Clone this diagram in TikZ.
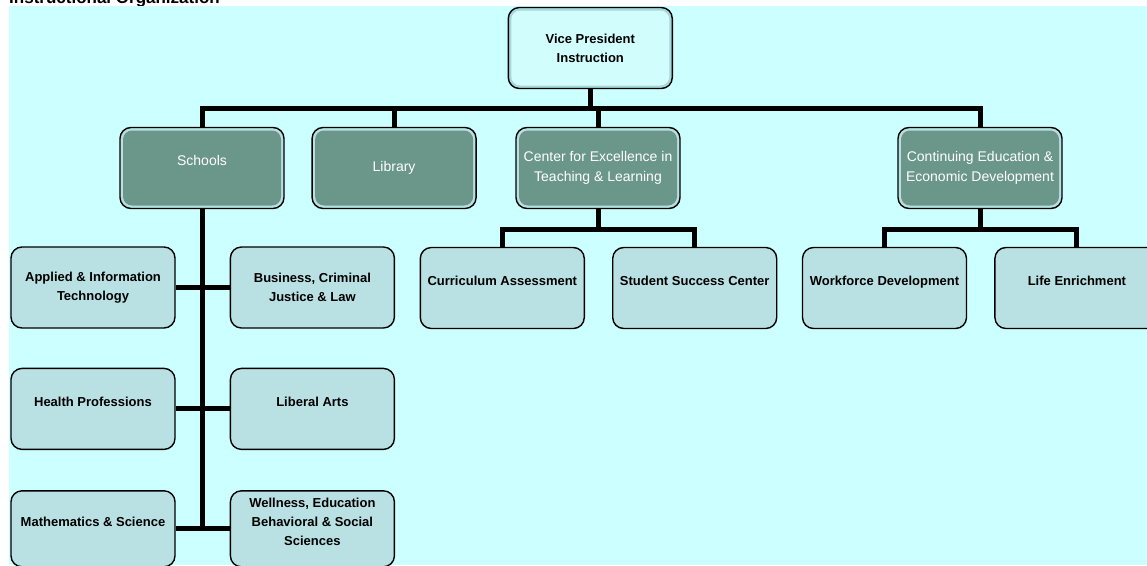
\documentclass[tikz,border=0pt]{standalone}
\usepackage{fontspec}
\setmainfont{Liberation Sans}
\usepackage{tikz}
\usetikzlibrary{positioning}
\definecolor{bgCyan}{HTML}{CCFFFF}
\definecolor{vpFill}{HTML}{D2FDFD}
\definecolor{vpRing}{HTML}{A8D6DA}
\definecolor{unitFill}{HTML}{6B978B}
\definecolor{unitRing}{HTML}{B8E0E2}
\definecolor{subFill}{HTML}{B9E0E3}
\newcommand{\upline}[1]{#1\\[-4pt]\mbox{}}

\begin{document}
\begin{tikzpicture}[x=1pt, y=-1pt, ringbox/.style 2 args={draw=black, line width=1.4pt, rounded corners=11pt, fill=#1, minimum width=164pt, minimum height=81pt, inner sep=0pt, align=center, path picture={\fill[#2, rounded corners=9pt] ([shift={(3pt,-3pt)}]path picture bounding box.north west) rectangle ([shift={(-3pt,3pt)}]path picture bounding box.south east);}},vpbox/.style={ringbox={vpRing}{vpFill}, font=\fontsize{13}{19}\selectfont\bfseries},unitbox/.style={ringbox={unitRing}{unitFill}, text=white, font=\fontsize{14}{19.5}\selectfont},subbox/.style={draw=black, line width=1.4pt, rounded corners=11pt, fill=subFill, minimum width=164pt, minimum height=81pt, inner sep=0pt, align=center, font=\fontsize{13}{19}\selectfont\bfseries},conn/.style={line width=5pt, draw=black}]
\useasboundingbox (0,0) rectangle (1147,565);
\node[anchor=base west, inner sep=0pt, font=\fontsize{17}{20}\selectfont\bfseries] (title) at (9,3.5) {Instructional Organization};
\fill[bgCyan] (9,5.5) rectangle (1147,565);
% top and second level
\node[vpbox] (vp) at (590.3,48) {Vice President\\Instruction};
\node[unitbox] (schools) at (202,168) {\upline{Schools}};
\node[unitbox, right=26.7pt of schools] (library) {Library};
\node[unitbox] (cetl) at (598,168) {Center for Excellence in\\Teaching \& Learning};
\node[unitbox] (ceed) at (980,168) {Continuing Education \&\\Economic Development};
% schools column
\node[subbox] (applied) at (93,287.5) {Applied \& Information\\Technology};
\node[subbox, right=54pt of applied] (business) {Business, Criminal\\Justice \& Law};
\node[subbox, below=39pt of applied] (health) {\upline{Health Professions}};
\node[subbox, right=54pt of health] (liberal) {\upline{Liberal Arts}};
\node[subbox, minimum height=76pt, below=40pt of health] (math) {\upline{Mathematics \& Science}};
\node[subbox, minimum height=76pt, right=54pt of math] (wellness) {\upline{Wellness, Education\\Behavioral \& Social\\Sciences}};
% third level
\node[subbox] (curr) at (502.3,288) {\upline{Curriculum Assessment}};
\node[subbox, right=27pt of curr] (success) {\upline{Student Success Center}};
\node[subbox] (work) at (884.5,288) {\upline{Workforce Development}};
\node[subbox, right=27pt of work] (life) {\upline{Life Enrichment}};
\coordinate (bar1) at (0,108.5); \coordinate (bar2) at (0,229.5);
\draw[conn] (vp.south) -- (vp.south |- bar1); \draw[conn] (schools.north) |- (ceed.north |- bar1) -- (ceed.north);
\draw[conn] (library.north) -- (library.north |- bar1); \draw[conn] (cetl.north) -- (cetl.north |- bar1);
\draw[conn] (cetl.south) -- (cetl.south |- bar2); \draw[conn] (curr.north) |- (success.north |- bar2) -- (success.north);
\draw[conn] (ceed.south) -- (ceed.south |- bar2); \draw[conn] (work.north) |- (life.north |- bar2) -- (life.north);
\draw[conn] (schools.south) -- (schools.south |- math.east);
\draw[conn] (applied) -- (business); \draw[conn] (health) -- (liberal); \draw[conn] (math) -- (wellness);
\end{tikzpicture}
\end{document}
